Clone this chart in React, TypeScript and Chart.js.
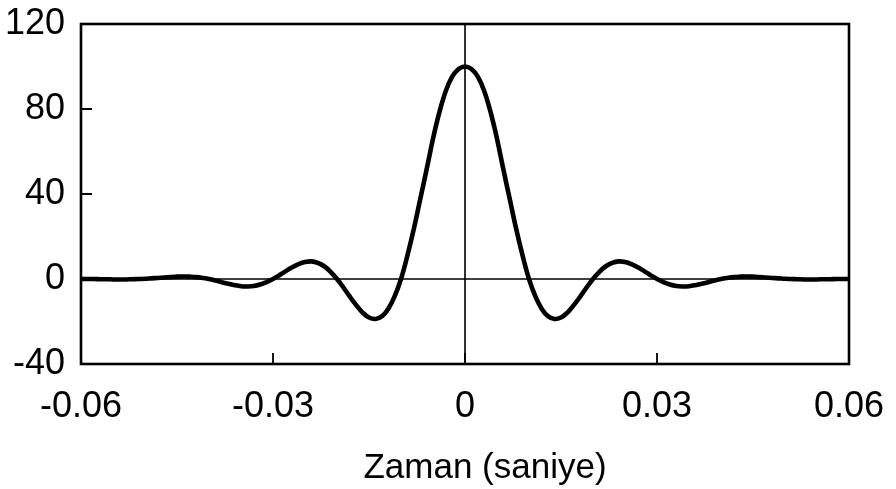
import React, { useEffect, useRef } from "react";
import { Chart, registerables } from "chart.js";

Chart.register(...registerables);

const timeValues = [
  -0.06, -0.059, -0.058, -0.057, -0.056, -0.055, -0.054, -0.053, -0.052, -0.051,
  -0.05, -0.049, -0.048, -0.047, -0.046, -0.045, -0.044, -0.043, -0.042, -0.041,
  -0.04, -0.039, -0.038, -0.037, -0.036, -0.035, -0.034, -0.033, -0.032, -0.031,
  -0.03, -0.029, -0.028, -0.027, -0.026, -0.025, -0.024, -0.023, -0.022, -0.021,
  -0.02, -0.019, -0.018, -0.017, -0.016, -0.015, -0.014, -0.013, -0.012, -0.011,
  -0.01, -0.009, -0.008, -0.007, -0.006, -0.005, -0.004, -0.003, -0.002, -0.001,
  0,
  0.001, 0.002, 0.003, 0.004, 0.005, 0.006, 0.007, 0.008, 0.009, 0.01,
  0.011, 0.012, 0.013, 0.014, 0.015, 0.016, 0.017, 0.018, 0.019, 0.02,
  0.021, 0.022, 0.023, 0.024, 0.025, 0.026, 0.027, 0.028, 0.029, 0.03,
  0.031, 0.032, 0.033, 0.034, 0.035, 0.036, 0.037, 0.038, 0.039, 0.04,
  0.041, 0.042, 0.043, 0.044, 0.045, 0.046, 0.047, 0.048, 0.049, 0.05,
  0.051, 0.052, 0.053, 0.054, 0.055, 0.056, 0.057, 0.058, 0.059, 0.06,
];

const amplitudeValues = [
  0, 0, 0, -0.1, -0.1, -0.2, -0.2, -0.2, -0.1, 0,
  0.1, 0.3, 0.5, 0.7, 0.9, 1.1, 1.2, 1.1, 0.9, 0.5,
  0, -0.7, -1.5, -2.2, -2.9, -3.4, -3.5, -3.3, -2.6, -1.5,
  0, 1.8, 3.7, 5.5, 7.0, 8.0, 8.3, 7.6, 6.0, 3.4,
  0, -4.0, -8.3, -12.3, -15.8, -18.1, -18.8, -17.6, -14.1, -8.2,
  0, 11.0, 23.5, 37.5, 51.5, 66.0, 78.5, 88.5, 95.2, 98.8,
  100,
  98.8, 95.2, 88.5, 78.5, 66.0, 51.5, 37.5, 23.5, 11.0, 0,
  -8.2, -14.1, -17.6, -18.8, -18.1, -15.8, -12.3, -8.3, -4.0, 0,
  3.4, 6.0, 7.6, 8.3, 8.0, 7.0, 5.5, 3.7, 1.8, 0,
  -1.5, -2.6, -3.3, -3.5, -3.4, -2.9, -2.2, -1.5, -0.7, 0,
  0.5, 0.9, 1.1, 1.2, 1.1, 0.9, 0.7, 0.5, 0.3, 0.1,
  0, -0.1, -0.2, -0.2, -0.2, -0.1, -0.1, 0, 0, 0,
];

const xTickValues = [-0.06, -0.03, 0, 0.03, 0.06];
const xTickLabels = ["-0.06", "-0.03", "0", "0.03", "0.06"];
const yTickValues = [-40, 0, 40, 80, 120];
const yTickLabels = ["-40", "0", "40", "80", "120"];
const xAxisTitle = "Zaman (saniye)";

const FONT = 'Arial, "Liberation Sans", sans-serif';

const framePlugin = {
  id: "frameAndZeroLines",
  beforeDatasetsDraw(chart: any) {
    const { ctx, chartArea, scales } = chart;
    const { left, right, top, bottom } = chartArea;
    const x0 = scales.x.getPixelForValue(0);
    const y0 = scales.y.getPixelForValue(0);
    ctx.save();
    ctx.strokeStyle = "#000";
    ctx.lineWidth = 1.6;
    ctx.beginPath();
    ctx.moveTo(left, y0);
    ctx.lineTo(right, y0);
    ctx.moveTo(x0, top);
    ctx.lineTo(x0, bottom);
    ctx.stroke();
    ctx.restore();
  },
  afterDatasetsDraw(chart: any) {
    const { ctx, chartArea, scales } = chart;
    const { left, right, top, bottom } = chartArea;
    ctx.save();
    ctx.strokeStyle = "#000";
    ctx.lineWidth = 1.8;
    ctx.beginPath();
    xTickValues.forEach((v) => {
      const px = scales.x.getPixelForValue(v);
      ctx.moveTo(px, bottom);
      ctx.lineTo(px, bottom - 11);
    });
    yTickValues.forEach((v) => {
      const py = scales.y.getPixelForValue(v);
      ctx.moveTo(left, py);
      ctx.lineTo(left + 11, py);
    });
    ctx.stroke();
    ctx.lineWidth = 2.6;
    ctx.strokeRect(left, top, right - left, bottom - top);
    // axis title
    ctx.fillStyle = "#000";
    ctx.font = `35px ${FONT}`;
    ctx.textAlign = "center";
    ctx.textBaseline = "alphabetic";
    ctx.fillText(xAxisTitle, (left + right) / 2 + 20, 478);
    ctx.restore();
  },
};

export default function App() {
  const canvasRef = useRef<HTMLCanvasElement | null>(null);

  useEffect(() => {
    const canvas = canvasRef.current;
    if (!canvas) return;
    const chart = new Chart(canvas, {
      type: "line",
      data: {
        datasets: [
          {
            data: timeValues.map((t, i) => ({ x: t, y: amplitudeValues[i] })),
            borderColor: "#000",
            backgroundColor: "#000",
            borderWidth: 4.6,
            pointRadius: 0,
            tension: 0.4,
            fill: false,
          },
        ],
      },
      options: {
        responsive: false,
        animation: false,
        devicePixelRatio: 1,
        layout: { padding: { left: 0, right: 47, top: 24, bottom: 0 } },
        plugins: {
          legend: { display: false },
          tooltip: { enabled: false },
        },
        scales: {
          x: {
            type: "linear",
            min: -0.06,
            max: 0.06,
            afterBuildTicks: (s: any) => {
              s.ticks = xTickValues.map((v) => ({ value: v }));
            },
            afterFit: (s: any) => {
              s.height = 125;
              s.paddingLeft = 0;
              s.paddingRight = 0;
            },
            ticks: {
              callback: (_v: any, i: number) => xTickLabels[i],
              font: { size: 36, family: FONT },
              color: "#000",
              padding: 21,
              maxRotation: 0,
              autoSkip: false,
            },
            grid: { display: false, drawTicks: false },
            border: { display: false },
          },
          y: {
            type: "linear",
            min: -40,
            max: 120,
            afterBuildTicks: (s: any) => {
              s.ticks = yTickValues.map((v) => ({ value: v }));
            },
            afterFit: (s: any) => {
              s.width = 81;
              s.paddingTop = 0;
              s.paddingBottom = 0;
            },
            ticks: {
              callback: (_v: any, i: number) => yTickLabels[i],
              font: { size: 36, family: FONT },
              color: "#000",
              padding: 16,
              autoSkip: false,
            },
            grid: { display: false, drawTicks: false },
            border: { display: false },
          },
        },
      },
      plugins: [framePlugin],
    });
    return () => chart.destroy();
  }, []);

  return (
    <div style={{ position: "absolute", left: 0, top: 0, width: 896, height: 489, background: "#fff" }}>
      <canvas ref={canvasRef} width={896} height={489} style={{ display: "block" }} />
    </div>
  );
}
